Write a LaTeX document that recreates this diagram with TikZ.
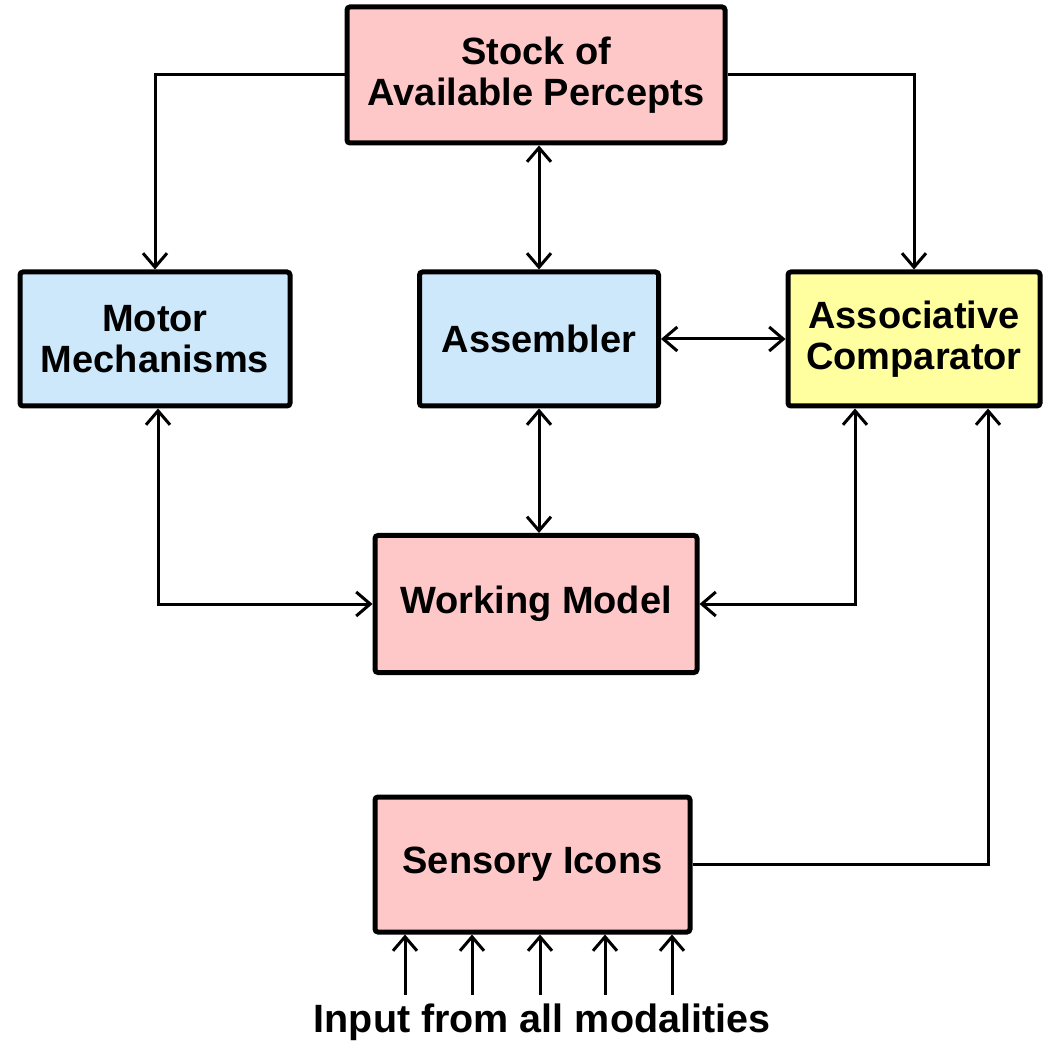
\documentclass[tikz,border=0pt]{standalone}
\usepackage{fontspec}
\setmainfont{Liberation Sans}
\usetikzlibrary{arrows.meta}
\definecolor{boxpink}{RGB}{255,200,200}
\definecolor{boxblue}{RGB}{204,232,250}
\definecolor{boxyellow}{RGB}{255,255,160}
\begin{document}
\begin{tikzpicture}[x=1pt,y=-1pt,
  blockbox/.style={draw=black,line width=5pt,rounded corners=3pt,align=center,
    font=\fontsize{38}{41}\selectfont\bfseries,inner sep=0pt},
  link/.style={line width=3pt,line join=miter},
  >={Straight Barb[length=14pt,width=24pt]}]
\useasboundingbox (0,0) rectangle (1053,1048);

% blocks
\node[blockbox,fill=boxpink,minimum width=378pt,minimum height=136pt] (stock) at (536,75)
  {Stock of\\Available Percepts};
\node[blockbox,fill=boxblue,minimum width=270pt,minimum height=134pt] (motor) at (155,339)
  {Motor\\Mechanisms};
\node[blockbox,fill=boxblue,minimum width=239pt,minimum height=134pt] (asm) at (539,339)
  {Assembler};
\node[blockbox,fill=boxyellow,minimum width=252pt,minimum height=134pt] (assoc) at (914,339)
  {Associative\\Comparator};
\node[blockbox,fill=boxpink,minimum width=322pt,minimum height=137pt] (work) at (536,604)
  {Working Model};
\node[blockbox,fill=boxpink,minimum width=315pt,minimum height=135pt] (sens) at (532.5,864.5)
  {Sensory Icons};
\node[font=\fontsize{39.5}{43}\selectfont\bfseries,inner sep=0pt] (inlabel) at (542,1022)
  {Input from all modalities};

% connectors
\draw[link,->] (stock.west) -| (motor.north);
\draw[link,->] (stock.east) -| (assoc.north);
\draw[link,<->] (asm.north |- stock.south) -- (asm.north);
\draw[link,<->] (asm.east) -- (assoc.west);
\draw[link,<->] (asm.south) -- (asm.south |- work.north);
\draw[link,<->] ([xshift=3pt]motor.south) |- (work.west);
\draw[link,<->] ([xshift=-59pt]assoc.south) |- (work.east);
\draw[link,->] (sens.east) -| ([xshift=74pt]assoc.south);

% sensory inputs
\foreach \i/\xx in {1/405,2/472,3/540,4/605,5/672}{
  \coordinate (in\i) at (\xx,995);
  \draw[link,->] (in\i) -- (in\i |- sens.south);
}
\end{tikzpicture}
\end{document}
